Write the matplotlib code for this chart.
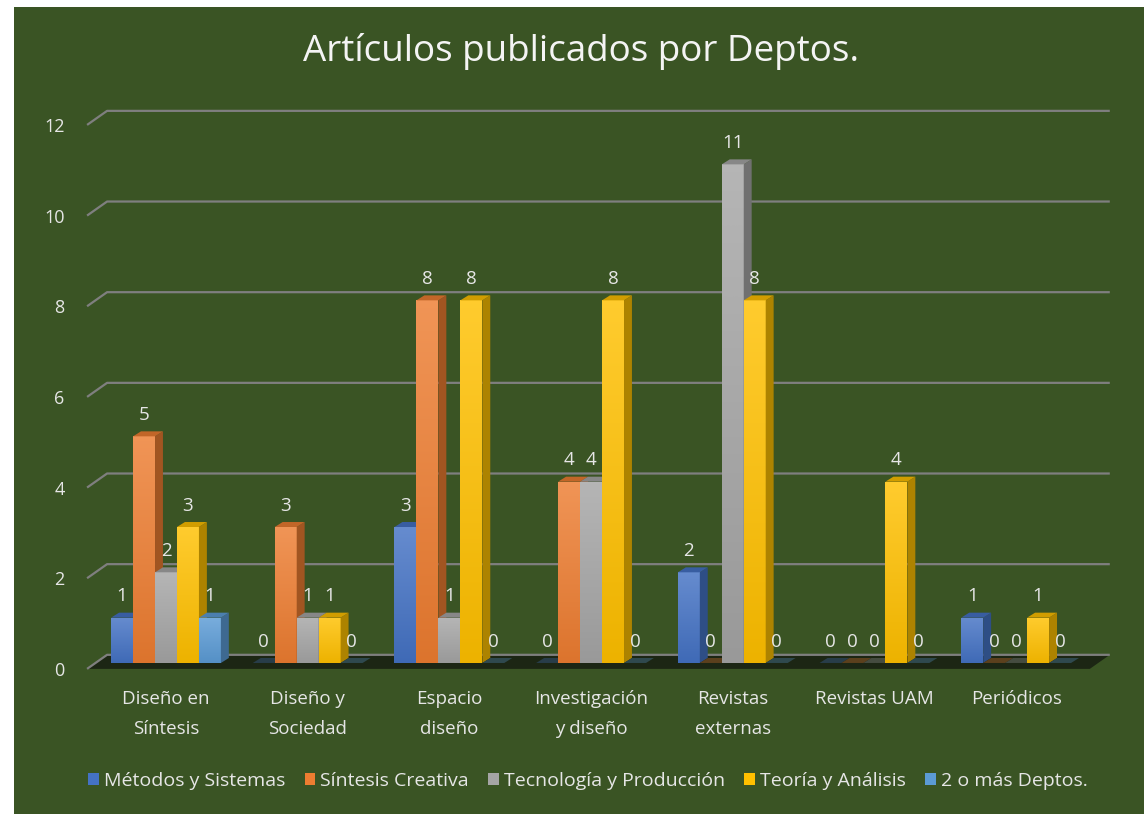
import numpy as np
import matplotlib.pyplot as plt
import matplotlib.colors as mcolors
from matplotlib.patches import Polygon, Rectangle

plt.rcParams['font.family'] = ['Open Sans', 'DejaVu Sans']

# data
categories = ['Diseño en\nSíntesis', 'Diseño y\nSociedad', 'Espacio\ndiseño',
              'Investigación\ny diseño', 'Revistas\nexternas', 'Revistas UAM',
              'Periódicos']
series = ['Métodos y Sistemas', 'Síntesis Creativa', 'Tecnología y Producción',
          'Teoría y Análisis', '2 o más Deptos.']
metodos = [1, 0, 3, 0, 2, 0, 1]
sintesis = [5, 3, 8, 4, 0, 0, 0]
tecnologia = [2, 1, 1, 4, 11, 0, 0]
teoria = [3, 1, 8, 8, 8, 4, 1]
dos_o_mas = [1, 0, 0, 0, 0, 0, 0]
yticks = [0, 2, 4, 6, 8, 10, 12]

colors = ['#4472C4', '#ED7D31', '#A5A5A5', '#FFC000', '#5B9BD5']
bg = '#3A5424'
floor_col = '#1C2614'
grid_col = '#7F7F7F'
txt = '#E6E6E6'

values = [metodos, sintesis, tecnologia, teoria, dos_o_mas]

# pseudo-3d geometry (data units)
w = 0.155          # bar width
dx, dy = 0.056, 0.11   # bar depth offset
front, back = -0.13, 0.18   # front / back plane height shift
xl0, xl1 = -0.557, 6.52     # floor front edge
wall_dx = 0.141


def shade(c, f):
    r, g, b = mcolors.to_rgb(c)
    return (r * f, g * f, b * f)


def mix(c1, c2, t):
    a = np.array(mcolors.to_rgb(c1))
    b = np.array(mcolors.to_rgb(c2))
    return tuple(a * (1 - t) + b * t)


fig = plt.figure(figsize=(11.44, 8.14), dpi=100)
fig.patch.set_facecolor('white')
fig.patches.append(Rectangle((14 / 1144, 0), 1 - 14 / 1144, 1 - 7 / 814,
                             transform=fig.transFigure, facecolor=bg,
                             edgecolor='none', zorder=-10))

ax = fig.add_axes([80 / 1144, (814 - 690) / 814, 1040 / 1144, 595 / 814])
ax.set_facecolor('none')
for s in ax.spines.values():
    s.set_visible(False)

# back wall gridlines
for v in yticks:
    ax.plot([xl0, xl0 + wall_dx, xl1 + wall_dx], [v + front, v + back, v + back],
            color=grid_col, lw=1.6, zorder=1, solid_capstyle='butt')

# floor
ax.add_patch(Polygon([(xl0, front), (xl0 + wall_dx, back), (xl1 + wall_dx, back),
                      (xl1, front)], closed=True, facecolor=floor_col,
                     edgecolor='none', zorder=0.5))

grad = np.linspace(0, 1, 64).reshape(-1, 1)
x = np.arange(len(categories))
for i in x:
    for k, vals in enumerate(values):
        v = vals[i]
        x0 = i + (k - 2.5) * w
        x1 = x0 + w
        c = colors[k]
        if v == 0:
            ax.add_patch(Polygon([(x0, 0), (x1, 0), (x1 + dx, dy), (x0 + dx, dy)],
                                 closed=True, facecolor=mix(c, floor_col, 0.7),
                                 edgecolor='none', zorder=2))
        else:
            cmap = mcolors.LinearSegmentedColormap.from_list(
                'g', [shade(c, 0.93), mix(c, 'white', 0.18)])
            rect = Rectangle((x0, 0), w, v, facecolor=c, edgecolor='none', zorder=2)
            ax.add_patch(rect)
            im = ax.imshow(grad, cmap=cmap, extent=[x0, x1, 0, v], origin='lower',
                           aspect='auto', zorder=2, interpolation='bilinear')
            im.set_clip_path(rect)
            ax.add_patch(Polygon([(x1, 0), (x1 + dx, dy), (x1 + dx, v + dy), (x1, v)],
                                 closed=True, facecolor=shade(c, 0.68),
                                 edgecolor='none', zorder=2))
            ax.add_patch(Polygon([(x0, v), (x1, v), (x1 + dx, v + dy), (x0 + dx, v + dy)],
                                 closed=True, facecolor=shade(c, 0.82),
                                 edgecolor='none', zorder=2))
        ax.text((x0 + x1) / 2, v + 0.47, str(v), ha='center', va='center',
                fontsize=13.5, color=txt, zorder=5)

ax.set_xlim(-0.607, 6.733)
ax.set_ylim(-0.596, 12.53)

ax.set_yticks([v + front for v in yticks])
ax.set_yticklabels([str(v) for v in yticks])
ax.set_xticks(x)
ax.set_xticklabels(categories, linespacing=1.85)
ax.tick_params(axis='y', length=0, pad=11, labelsize=13, labelcolor=txt)
ax.tick_params(axis='x', length=0, pad=0, labelsize=13.5, labelcolor=txt)

fig.text(581 / 1144, 1 - 52 / 814, 'Artículos publicados por Deptos.', ha='center',
         va='center', fontsize=26.5, color='#F4F4F4')

handles = [Rectangle((0, 0), 1, 1, facecolor=c) for c in colors]
fig.legend(handles, series, loc='center', bbox_to_anchor=(588 / 1144, 1 - 781 / 814),
           ncol=5, frameon=False, fontsize=14, labelcolor=txt, handlelength=0.55,
           handleheight=0.55, handletextpad=0.25, columnspacing=1.0)

fig.savefig('out.png', dpi=100, facecolor=fig.get_facecolor())
